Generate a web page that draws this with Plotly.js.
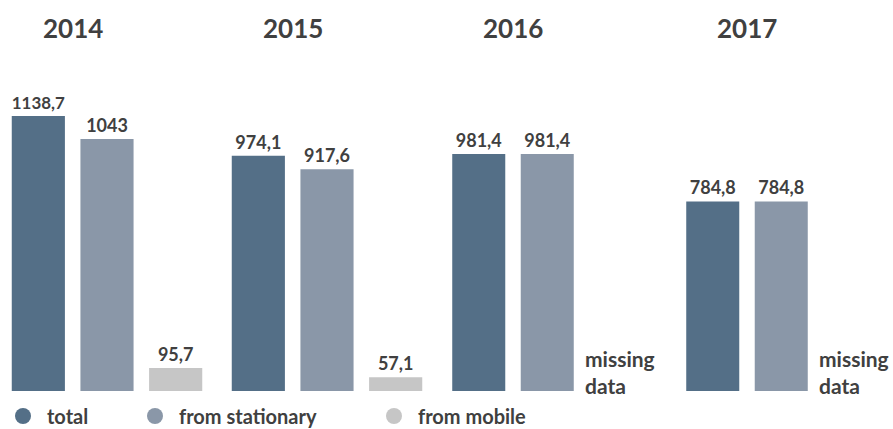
<!DOCTYPE html>
<html>
<head>
<meta charset="utf-8">
<script src="https://cdn.plot.ly/plotly-3.0.1.min.js"></script>
<style>html,body{margin:0;padding:0;background:#fff;}#chart{width:893px;height:429px;}</style>
</head>
<body>
<div id="chart"></div>
<script>
// ---- data ----
var years = ['2014', '2015', '2016', '2017'];
var seriesNames = ['total', 'from stationary', 'from mobile'];
var total = [1138.7, 974.1, 981.4, 784.8];
var stationary = [1043, 917.6, 981.4, 784.8];
var mobile = [95.7, 57.1, null, null];
var missingText = 'missing<br>data';

// ---- styling ----
var colors = ['#546f87', '#8a97a8', '#c6c6c6'];
var textColor = '#404040';
var FONT = 'Lato, "Open Sans", sans-serif';
var W = 893;
var domainsPx = [[4, 210], [224, 430], [444.5, 650], [678.5, 884]];

function fmt(v) { return v == null ? '' : String(v).replace('.', ','); }

var traces = [];
var layout = {
  width: 893, height: 429,
  margin: {l: 0, r: 0, t: 77, b: 38, autoexpand: false},
  paper_bgcolor: '#fff', plot_bgcolor: '#fff',
  bargap: 0.226,
  showlegend: true,
  font: {family: FONT, color: textColor},
  annotations: []
};

years.forEach(function (yr, i) {
  var n = i + 1;
  var xa = 'x' + (n === 1 ? '' : n), ya = 'y' + (n === 1 ? '' : n);
  var vals = [total[i], stationary[i], mobile[i]];
  traces.push({
    type: 'bar', x: seriesNames, y: vals,
    xaxis: xa, yaxis: ya,
    marker: {color: colors},
    text: vals.map(fmt), textposition: 'outside', cliponaxis: false,
    textfont: {family: FONT, size: 18, color: textColor, weight: 'bold'},
    showlegend: false, hoverinfo: 'skip'
  });
  var xk = 'xaxis' + (n === 1 ? '' : n), yk = 'yaxis' + (n === 1 ? '' : n);
  layout[xk] = {domain: [domainsPx[i][0] / W, domainsPx[i][1] / W], anchor: ya,
    type: 'category', range: [-0.5, 2.5], fixedrange: true,
    showticklabels: false, showgrid: false, zeroline: false, showline: false, ticks: ''};
  layout[yk] = {domain: [0, 1], anchor: xa, range: [0, 1300], fixedrange: true,
    showticklabels: false, showgrid: false, zeroline: false, showline: false, ticks: ''};
  // year heading centred over first two bars
  var d = domainsPx[i], cw = (d[1] - d[0]) / 3;
  layout.annotations.push({
    xref: 'paper', yref: 'paper', x: (d[0] + cw) / W, y: (391 - 28) / 314,
    xanchor: 'center', yanchor: 'middle', showarrow: false,
    text: '<b>' + yr + '</b>', font: {family: FONT, size: 26, color: textColor}
  });
  if (mobile[i] == null) {
    layout.annotations.push({
      xref: xa, yref: ya, x: seriesNames[2], y: 0,
      xanchor: 'center', yanchor: 'bottom', yshift: -9, xshift: 4, align: 'left',
      showarrow: false, text: '<b>' + missingText + '</b>',
      font: {family: FONT, size: 21, color: textColor}
    });
  }
});

// legend entries (circle markers), one legend per entry for placement
var legendX = [-1 / W, 131 / W, 370 / W];
seriesNames.forEach(function (nm, k) {
  var lg = 'legend' + (k === 0 ? '' : (k + 1));
  traces.push({
    type: 'scatter', mode: 'markers', x: [null], y: [null],
    name: nm, legend: lg, showlegend: true, hoverinfo: 'skip',
    marker: {color: colors[k], size: 18, symbol: 'circle'}
  });
  layout[lg] = {x: legendX[k], y: (391 - 416) / 314, xanchor: 'left', yanchor: 'middle',
    orientation: 'h', bgcolor: 'rgba(0,0,0,0)', itemwidth: 38,
    font: {family: FONT, size: 20, color: textColor, weight: 'bold'}};
});

Plotly.newPlot('chart', traces, layout, {displayModeBar: false, staticPlot: true});
</script>
</body>
</html>
